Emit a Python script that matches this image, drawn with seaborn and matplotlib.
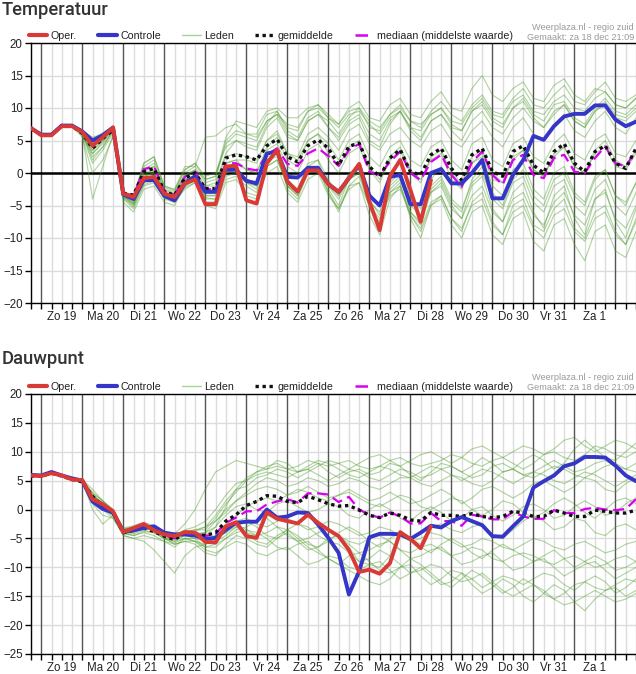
import numpy as np
import pandas as pd
import seaborn as sns
import matplotlib.pyplot as plt
from matplotlib.lines import Line2D

# 6-hourly steps, starting Za 18 dec 18:00 (hour -6 relative to Zo 19 00:00)
hours = np.arange(-6, 349, 6)
day_labels = ["Zo 19", "Ma 20", "Di 21", "Wo 22", "Do 23", "Vr 24", "Za 25",
              "Zo 26", "Ma 27", "Di 28", "Wo 29", "Do 30", "Vr 31", "Za 1"]

# ---------------- Temperatuur ----------------
temp_oper = [6.9, 5.8, 5.8, 7.2, 7.2, 6.3, 4.2, 5.5, 7.0, -3.2,
             -3.7, -0.8, -0.6, -3.2, -3.7, -1.6, -1.0, -4.8, -4.8, 1.0,
             1.1, -4.2, -4.7, 1.5, 3.5, -1.3, -2.9, 0.4, 0.4, -1.7,
             -2.9, -0.8, 1.4, -4.4, -8.8, -0.5, 2.0, -2.6, -7.5, -1.1]
temp_ctrl = [6.9, 5.9, 5.9, 7.3, 7.3, 6.4, 5.0, 5.8, 7.0, -3.3,
             -4.0, -1.1, -1.1, -3.5, -4.2, -1.6, -0.5, -2.9, -2.9, 0.5,
             0.5, -1.2, -1.6, 3.0, 3.3, -0.6, -0.7, 0.8, 0.8, -1.7,
             -2.9, -0.8, 1.2, -3.5, -5.0, -0.6, -0.3, -4.8, -4.8, 0.0,
             0.6, -1.6, -1.6, 0.0, 2.0, -3.9, -3.9, -0.3, 2.0, 5.7,
             5.1, 7.2, 8.7, 9.1, 9.1, 10.4, 10.4, 8.2, 7.2, 7.9]
temp_mean = [6.8, 5.9, 5.9, 7.3, 7.2, 6.1, 3.8, 5.3, 6.6, -3.1,
             -3.4, 0.2, 0.7, -2.9, -3.4, -0.8, 0.0, -2.4, -2.4, 2.3,
             2.8, 2.5, 2.0, 4.2, 5.2, 2.5, 1.7, 4.2, 5.1, 3.8,
             1.2, 4.1, 4.6, 1.0, -0.6, 2.3, 3.6, 0.2, -0.3, 2.8,
             3.8, 0.7, -1.1, 2.8, 3.8, 0.2, -0.5, 3.3, 4.2, 1.2,
             0.0, 3.3, 4.5, 1.5, 0.2, 3.3, 4.2, 1.5, 0.7, 3.8]
temp_median = [6.8, 5.9, 5.9, 7.3, 7.2, 6.2, 4.2, 5.4, 6.7, -3.1,
               -3.5, 0.6, 1.0, -2.8, -3.4, -0.6, 0.2, -2.5, -2.5, 1.5,
               1.5, 0.7, 0.4, 2.8, 3.8, 1.4, 1.1, 3.0, 3.8, 2.6,
               1.1, 3.5, 4.5, 0.2, -0.3, 1.7, 3.3, 0.0, -1.1, 1.7,
               2.8, -0.3, -2.1, 1.7, 3.3, -0.3, -1.8, 2.0, 2.8, -0.3,
               -0.8, 2.3, 2.8, 0.2, 0.0, 2.3, 4.1, 1.5, 1.0, 3.5]
temp_members = [
    [7.0, 6.0, 6.0, 7.4, 7.3, 6.0, 3.5, 5.0, 6.8, -3.5,
     -4.5, 0.5, 1.0, -3.0, -3.5, -0.5, 0.5, -2.0, -1.5, 3.0,
     5.0, 4.0, 3.5, 7.0, 8.5, 5.5, 5.0, 8.0, 9.0, 8.0,
     6.0, 8.5, 10.0, 7.0, 6.5, 9.0, 10.5, 8.0, 7.0, 9.5,
     11.0, 9.0, 8.0, 10.5, 12.0, 9.5, 9.0, 11.5, 13.0, 10.5,
     10.0, 12.0, 13.5, 11.0, 10.5, 12.5, 14.0, 11.5, 11.0, 12.0],
    [6.8, 5.8, 5.8, 7.2, 7.2, 6.5, 5.0, 6.0, 7.2, -3.0,
     -3.5, 1.5, 2.5, -2.0, -2.5, 1.0, 1.0, 5.5, 5.7, 7.0,
     7.5, 6.0, 6.0, 9.0, 9.5, 7.0, 6.5, 9.5, 10.5, 9.0,
     7.5, 10.0, 11.0, 8.5, 8.0, 10.5, 11.5, 9.0, 8.5, 11.0,
     12.5, 10.0, 9.5, 13.0, 15.0, 12.0, 11.0, 13.0, 14.0, 11.5,
     11.0, 13.5, 14.5, 12.0, 11.0, 13.0, 12.5, 10.5, 10.0, 11.5],
    [6.9, 5.9, 5.9, 7.3, 7.3, 6.2, 2.0, 4.0, 6.5, -3.8,
     -5.0, -1.0, -0.5, -3.5, -4.0, -1.5, -0.5, -3.0, -3.0, 1.5,
     2.0, 2.0, 1.5, 5.0, 6.5, 3.0, 2.5, 6.0, 7.0, 5.5,
     3.5, 6.5, 7.5, 4.5, 3.5, 6.0, 7.0, 5.0, 4.0, 6.5,
     7.5, 5.0, 4.0, 6.5, 8.0, 5.5, 4.0, 7.0, 8.5, 6.0,
     5.0, 7.5, 9.0, 6.5, 5.5, 8.0, 9.5, 7.0, 6.0, 8.5],
    [6.9, 5.9, 5.9, 7.3, 7.2, 6.0, -4.0, 1.0, 6.0, -4.0,
     -5.5, -2.0, -1.5, -4.0, -4.5, -2.5, -1.5, -4.5, -4.5, -1.0,
     -0.5, -2.0, -3.0, 1.0, 2.0, -2.0, -3.5, 0.0, 1.0, -2.0,
     -4.0, -1.0, 0.0, -4.5, -6.0, -2.5, -1.0, -5.0, -6.5, -3.0,
     -2.0, -5.5, -7.0, -3.5, -2.0, -6.0, -7.5, -4.0, -3.0, -6.5,
     -8.0, -4.5, -3.0, -6.5, -8.0, -4.0, -3.0, -7.0, -8.5, -5.0],
    [7.0, 6.0, 6.0, 7.3, 7.2, 6.3, 4.0, 5.5, 6.9, -3.2,
     -4.0, -0.5, 0.0, -3.2, -3.8, -1.0, -0.5, -3.5, -3.5, 0.0,
     1.0, -1.0, -2.0, 2.0, 3.0, -1.5, -2.5, 1.5, 2.0, -1.0,
     -3.5, 0.0, 1.0, -4.0, -6.5, -3.0, -2.0, -6.5, -9.0, -5.0,
     -4.0, -8.0, -10.0, -6.0, -5.0, -9.5, -11.0, -7.0, -6.0, -10.5,
     -12.0, -8.0, -7.0, -11.0, -13.5, -9.0, -8.0, -12.0, -13.0, -9.0],
    [6.9, 5.8, 5.8, 7.2, 7.3, 6.4, 4.8, 5.8, 7.0, -3.0,
     -3.8, -0.8, -0.5, -3.0, -3.6, -1.2, -0.8, -4.5, -4.5, 1.0,
     1.0, -3.5, -4.0, 1.5, 3.5, -1.0, -2.5, 0.5, 1.0, -1.5,
     -3.0, -0.5, 1.5, -4.0, -8.5, 0.0, 2.0, -4.0, -7.0, -1.0,
     1.0, -1.5, -2.0, 1.5, 3.0, -1.0, -1.5, 2.0, 3.5, 0.5,
     -0.5, 3.0, 4.0, 1.0, 0.0, 3.5, 5.0, 2.0, 1.0, 3.5],
    [7.0, 6.0, 6.1, 7.4, 7.4, 6.5, 5.5, 6.0, 7.2, -2.8,
     -3.5, 0.5, 1.5, -2.5, -3.0, 0.0, 1.0, -1.5, -1.0, 5.0,
     6.5, 6.0, 5.5, 8.0, 9.0, 7.5, 7.0, 9.5, 10.0, 8.5,
     7.0, 9.0, 9.5, 7.5, 6.0, 8.5, 9.5, 7.0, 5.5, 8.0,
     9.0, 6.5, 5.0, 8.0, 9.5, 7.0, 6.0, 8.5, 10.0, 8.0,
     7.0, 9.5, 10.5, 8.0, 7.0, 9.5, 11.0, 9.0, 8.5, 10.0],
    [6.8, 5.9, 5.9, 7.3, 7.2, 5.5, 0.0, 2.0, 5.5, -4.5,
     -6.0, -2.5, -2.0, -4.5, -5.0, -2.0, -1.0, -4.0, -4.0, 0.0,
     0.5, -1.5, -2.0, 2.5, 3.0, -2.0, -3.0, 1.0, 2.0, -2.5,
     -5.0, -1.0, 0.5, -5.5, -7.5, -2.0, -0.5, -6.0, -8.0, -3.0,
     -1.5, -5.0, -7.0, -2.0, -0.5, -5.5, -7.5, -3.0, -1.5, -6.0,
     -8.5, -3.5, -2.0, -7.0, -9.5, -4.0, -2.5, -7.5, -10.0, -5.5],
    [6.9, 5.9, 5.9, 7.3, 7.3, 6.0, 3.0, 4.5, 6.5, -3.3,
     -4.2, 0.0, 0.5, -2.8, -3.5, -0.5, 0.0, -2.0, -2.0, 2.5,
     3.0, 2.5, 2.0, 5.0, 6.0, 3.0, 2.0, 5.0, 6.0, 4.5,
     2.0, 5.0, 6.0, 2.5, 1.0, 4.0, 5.0, 2.0, 1.0, 4.0,
     5.0, 2.0, 0.5, 4.5, 5.5, 2.0, 1.0, 4.5, 5.5, 2.5,
     1.5, 4.5, 6.0, 3.0, 2.0, 5.0, 6.0, 3.0, 2.5, 5.0],
    [7.0, 6.0, 5.9, 7.2, 7.2, 5.8, 2.5, 4.0, 6.5, -3.5,
     -4.8, -1.5, -1.0, -3.8, -4.5, -2.0, -1.2, -3.8, -4.0, -0.5,
     0.0, -1.5, -2.5, 1.0, 2.0, -1.5, -3.0, 0.5, 1.0, -2.0,
     -3.5, -1.0, 0.0, -3.0, -5.0, -1.5, 0.0, -4.0, -5.5, -2.0,
     -0.5, -4.0, -5.5, -1.5, 0.0, -4.0, -5.5, -1.5, -0.5, -4.5,
     -6.0, -2.0, -1.0, -5.0, -6.5, -2.5, -1.0, -5.0, -6.5, -3.0],
    [6.9, 6.0, 6.0, 7.3, 7.4, 6.6, 5.2, 6.2, 7.1, -2.9,
     -3.6, 1.0, 2.0, -2.2, -2.8, 0.5, 1.5, -0.5, 0.0, 4.0,
     5.0, 4.5, 4.0, 7.5, 9.5, 6.5, 5.5, 8.5, 9.5, 7.0,
     5.5, 8.0, 9.0, 6.0, 5.0, 8.0, 9.5, 6.5, 5.0, 8.0,
     9.0, 7.0, 6.5, 9.5, 10.5, 8.0, 7.0, 10.0, 11.5, 9.0,
     8.0, 10.5, 11.0, 8.5, 7.5, 10.0, 11.5, 9.5, 9.0, 10.5],
    [6.9, 5.9, 5.9, 7.2, 7.2, 6.0, 3.5, 5.0, 6.8, -3.6,
     -4.6, -1.2, -0.8, -3.5, -4.2, -1.8, -1.0, -3.2, -3.2, 0.5,
     0.5, -1.0, -1.5, 2.0, 3.0, -2.5, -4.0, 0.0, 0.5, -3.0,
     -5.5, -2.0, -1.5, -6.5, -9.5, -4.0, -2.0, -6.0, -7.5, -2.5,
     -1.0, -4.5, -6.0, -1.0, 1.0, -3.0, -5.0, -1.0, 0.5, -3.5,
     -5.0, -1.0, 0.0, -3.5, -5.0, -1.0, 0.5, -3.5, -4.5, -1.5],
    [6.8, 5.8, 5.8, 7.2, 7.3, 6.2, 4.0, 5.5, 6.9, -3.4,
     -4.3, -0.2, 0.3, -3.0, -3.6, -1.0, -0.3, -2.8, -2.8, 1.0,
     1.5, 0.5, 0.0, 3.5, 4.5, 1.0, 0.0, 3.5, 4.5, 2.0,
     0.0, 3.0, 4.0, 0.5, -1.5, 2.0, 3.5, 0.0, -1.5, 2.5,
     3.5, 0.0, -1.5, 2.5, 3.5, 0.0, -1.5, 2.5, 3.5, 0.5,
     -0.5, 2.5, 4.0, 1.0, 0.0, 3.0, 4.0, 1.0, 0.5, 3.0],
    [7.0, 6.0, 6.0, 7.3, 7.3, 6.4, 4.5, 5.5, 7.0, -3.1,
     -3.9, 0.2, 1.0, -2.6, -3.2, -0.3, 0.5, -1.0, -0.5, 4.5,
     6.0, 5.5, 5.0, 8.0, 9.0, 6.0, 5.0, 8.0, 9.0, 7.0,
     5.0, 7.5, 8.5, 5.0, 4.0, 7.5, 9.5, 7.0, 6.5, 9.0,
     10.0, 8.0, 7.5, 10.0, 11.5, 9.0, 8.5, 11.0, 12.0, 9.5,
     9.0, 11.0, 12.0, 10.0, 9.5, 11.5, 12.5, 10.5, 10.0, 11.5],
    [6.9, 5.9, 5.9, 7.3, 7.2, 5.8, 1.5, 3.5, 6.2, -3.8,
     -5.2, -1.8, -1.2, -3.8, -4.4, -2.2, -1.5, -5.0, -5.5, -1.5,
     -1.0, -3.0, -3.5, 0.0, 1.0, -3.0, -4.5, -1.0, 0.0, -3.5,
     -5.5, -2.5, -1.5, -5.0, -7.0, -3.5, -2.5, -6.5, -8.5, -4.5,
     -3.5, -7.0, -8.5, -5.0, -4.0, -8.0, -9.5, -6.0, -5.0, -8.5,
     -10.0, -6.5, -5.5, -9.0, -10.5, -7.0, -6.0, -9.5, -11.0, -7.5],
    [6.9, 5.9, 5.9, 7.3, 7.3, 6.3, 4.2, 5.6, 7.0, -3.2,
     -4.0, -0.5, 0.0, -3.2, -3.8, -1.0, -0.5, -2.5, -2.5, 1.5,
     2.0, 0.5, 0.0, 4.0, 5.5, 2.0, 1.0, 5.0, 6.0, 3.0,
     1.0, 4.0, 5.0, 1.0, -1.0, 2.5, 4.0, 0.5, -1.0, 2.0,
     3.0, -1.0, -2.5, 1.5, 2.5, -2.0, -3.5, 0.5, 1.5, -2.5,
     -4.0, 0.0, 1.0, -3.0, -4.5, -0.5, 0.5, -3.5, -5.0, -1.5],
    [7.0, 6.0, 6.0, 7.4, 7.4, 6.2, 4.0, 5.4, 6.9, -3.0,
     -3.8, 1.5, 2.5, -2.0, -2.6, 0.5, 1.5, -1.0, -0.5, 5.5,
     8.0, 7.5, 7.0, 9.5, 10.0, 8.5, 8.5, 10.0, 10.5, 8.5,
     7.5, 9.5, 10.0, 8.0, 7.0, 9.0, 10.0, 8.0, 7.5, 9.0,
     10.0, 7.5, 6.5, 9.5, 11.0, 8.5, 7.5, 10.0, 11.0, 8.5,
     7.0, 9.0, 10.5, 8.0, 7.0, 9.5, 10.5, 8.5, 8.0, 9.5],
    [6.9, 5.9, 5.9, 7.2, 7.2, 6.0, 3.0, 4.8, 6.6, -3.6,
     -4.8, -1.0, -0.5, -3.6, -4.2, -1.5, -1.0, -3.5, -3.5, 0.0,
     0.5, -1.0, -2.0, 2.0, 2.5, -2.0, -3.5, 0.5, 1.0, -3.0,
     -6.0, -2.0, -0.5, -5.0, -8.0, -3.0, -1.5, -7.0, -10.0, -5.0,
     -3.5, -7.0, -9.0, -4.5, -3.0, -7.5, -9.5, -5.0, -4.0, -8.0,
     -9.0, -5.5, -4.0, -8.5, -10.0, -6.0, -5.0, -9.0, -11.0, -7.0],
]

# ---------------- Dauwpunt ----------------
dew_oper = [5.9, 5.8, 6.3, 5.9, 5.2, 5.1, 1.8, 0.9, -0.3, -3.9,
            -3.2, -2.5, -3.6, -4.3, -4.6, -3.9, -4.0, -5.6, -5.7, -2.9,
            -2.2, -4.6, -4.9, -0.5, -1.6, -2.0, -2.4, -0.9, -2.3, -3.5,
            -4.6, -7.0, -10.8, -10.4, -11.1, -9.3, -3.9, -5.1, -6.7, -2.9]
dew_ctrl = [6.0, 5.9, 6.5, 5.9, 5.4, 5.0, 1.4, 0.1, -0.5, -3.8,
            -3.6, -3.2, -2.9, -4.0, -4.3, -4.3, -4.5, -5.1, -4.9, -3.5,
            -2.3, -2.1, -2.1, 0.0, -1.4, -1.2, -0.5, -0.6, -2.6, -4.9,
            -7.5, -14.7, -10.7, -4.8, -4.2, -4.2, -4.3, -5.1, -4.0, -2.8,
            -3.1, -2.0, -1.3, -2.0, -2.7, -4.6, -4.7, -2.9, -1.2, 3.8,
            4.9, 5.9, 7.5, 8.0, 9.1, 9.1, 9.0, 7.6, 5.9, 4.9]
dew_mean = [5.8, 5.8, 6.3, 5.8, 5.2, 4.8, 2.3, 0.6, -0.6, -4.0,
            -3.6, -3.2, -3.8, -4.6, -5.2, -4.0, -4.2, -4.5, -4.0, -2.0,
            -0.9, 0.7, 1.4, 2.4, 2.3, 1.4, 1.2, 2.3, 1.7, 1.0,
            0.6, 0.7, -0.1, -1.0, -1.4, -0.6, -1.0, -1.8, -2.0, -0.5,
            -1.0, -1.0, -1.2, -0.7, -1.2, -1.4, -1.2, -0.3, -0.6, -1.2,
            -1.2, -0.1, -0.6, -1.2, -1.2, -0.1, -0.3, -0.6, -0.6, -0.1]
dew_median = [5.8, 5.8, 6.3, 5.8, 5.2, 4.9, 2.0, 0.7, -0.5, -3.9,
              -3.5, -3.0, -3.6, -4.5, -5.0, -4.0, -4.1, -4.6, -4.2, -2.3,
              -1.4, -0.3, -0.3, 0.9, 1.4, 1.8, 1.2, 2.8, 2.8, 2.6,
              1.3, 2.2, 0.0, -0.9, -1.4, -0.5, -1.2, -2.4, -2.4, -0.6,
              -2.0, -2.0, -2.8, -0.9, -1.2, -1.7, -1.7, -0.4, -1.2, -1.6,
              -1.6, -0.1, -0.6, -0.6, 0.1, 0.3, 0.0, -0.1, 0.1, 1.8]
dew_members = [
    [5.8, 5.8, 6.5, 5.9, 5.2, 5.0, 2.5, 1.0, -0.5, -3.5,
     -3.0, -2.5, -3.0, -4.0, -4.5, -4.0, -4.0, -4.5, -3.0, 0.5,
     3.5, 5.5, 6.5, 7.5, 8.0, 7.0, 7.5, 8.5, 8.0, 7.5,
     8.0, 8.5, 7.5, 7.0, 7.5, 8.5, 9.0, 8.0, 7.5, 8.0,
     8.5, 9.5, 9.0, 8.0, 7.5, 8.5, 9.0, 8.0, 7.0, 8.0,
     9.5, 10.0, 9.0, 8.5, 9.5, 11.0, 10.5, 9.5, 9.0, 10.0],
    [5.9, 5.9, 6.6, 6.0, 5.3, 5.1, 3.0, 1.5, 0.0, -3.2,
     -2.8, -2.2, -2.8, -3.8, -4.2, -2.5, 0.0, 3.5, 6.5, 7.5,
     8.5, 8.0, 7.5, 7.0, 8.5, 8.0, 6.5, 7.0, 8.0, 6.5,
     5.5, 6.5, 7.0, 6.0, 6.5, 8.0, 7.5, 6.0, 5.0, 6.5,
     8.0, 7.5, 6.5, 7.5, 9.0, 8.0, 6.5, 7.0, 8.5, 9.5,
     8.5, 7.0, 8.0, 10.5, 12.0, 10.5, 9.0, 8.5, 10.0, 11.5],
    [5.9, 5.8, 6.4, 5.8, 5.1, 4.9, 1.5, 0.0, -1.0, -4.2,
     -3.8, -3.0, -3.5, -4.8, -5.2, -4.5, -4.2, -4.0, -2.0, 0.0,
     1.5, 2.5, 3.5, 4.0, 3.5, 2.5, 3.0, 4.0, 3.0, 2.0,
     2.5, 3.5, 2.5, 1.5, 2.0, 3.0, 2.0, 1.0, 1.5, 2.5,
     3.5, 2.5, 1.0, 2.0, 3.5, 4.0, 3.0, 2.0, 3.0, 4.5,
     5.0, 4.0, 3.0, 4.0, 5.5, 5.0, 3.5, 3.0, 4.5, 5.5],
    [5.8, 5.7, 6.3, 5.8, 5.2, 5.0, 2.0, 0.5, -1.0, -4.0,
     -4.5, -4.0, -4.5, -5.5, -6.5, -5.0, -5.5, -6.5, -6.0, -5.0,
     -4.0, -3.5, -4.0, -5.0, -6.5, -7.0, -6.0, -5.5, -7.0, -8.5,
     -9.5, -8.0, -7.5, -9.0, -10.5, -11.0, -10.0, -9.5, -11.5, -13.0,
     -12.0, -10.5, -11.0, -13.0, -14.5, -13.5, -12.0, -13.0, -15.0, -16.0,
     -14.5, -13.0, -14.0, -16.0, -17.5, -15.5, -14.0, -13.5, -15.0, -14.0],
    [5.9, 5.9, 6.5, 5.9, 5.3, 5.2, 3.5, 1.5, 0.0, -3.5,
     -3.5, -3.0, -3.8, -5.0, -6.0, -5.5, -5.5, -7.0, -7.5, -6.5,
     -5.5, -6.0, -7.5, -8.0, -7.0, -6.5, -8.0, -9.5, -9.0, -8.0,
     -8.5, -10.0, -10.5, -9.5, -9.0, -10.5, -12.0, -11.0, -10.0, -11.5,
     -13.0, -12.5, -11.0, -12.0, -13.5, -12.5, -11.5, -12.0, -13.0, -12.0,
     -11.0, -11.5, -13.0, -14.0, -12.5, -11.5, -12.5, -14.5, -13.5, -12.0],
    [5.9, 5.8, 6.4, 5.9, 5.2, 5.1, 1.8, 0.8, -0.5, -3.8,
     -3.3, -2.6, -3.5, -4.3, -4.6, -4.0, -4.0, -5.5, -5.5, -3.0,
     -2.5, -4.0, -4.5, -1.0, -1.5, -2.0, -2.5, -1.0, -2.0, -3.5,
     -4.5, -6.5, -9.0, -9.5, -10.0, -8.0, -4.0, -5.0, -6.0, -3.0,
     -2.5, -3.5, -4.0, -3.0, -2.5, -4.5, -5.0, -3.5, -2.0, -1.0,
     -2.0, -3.5, -3.0, -1.5, -2.0, -4.0, -4.5, -3.0, -2.5, -3.5],
    [5.8, 5.8, 6.5, 5.9, 5.3, 5.0, 2.2, 1.2, -0.2, -3.3,
     -3.0, -2.4, -3.2, -4.0, -4.5, -3.5, -3.0, -2.0, 0.0, 2.5,
     4.5, 5.0, 6.0, 6.5, 6.0, 5.5, 6.5, 7.0, 6.0, 5.0,
     6.0, 7.0, 6.5, 5.5, 5.0, 6.0, 7.0, 6.5, 5.5, 6.0,
     7.0, 7.5, 6.5, 5.5, 6.0, 7.5, 8.0, 7.0, 6.0, 6.5,
     7.5, 8.5, 7.5, 6.5, 7.0, 8.0, 8.5, 7.5, 7.0, 8.0],
    [5.9, 5.9, 6.5, 5.9, 5.2, 5.0, 0.0, -2.5, -1.0, -4.5,
     -5.0, -4.5, -5.0, -5.5, -6.0, -5.5, -6.0, -7.5, -8.0, -6.0,
     -4.5, -5.0, -6.0, -6.5, -5.0, -4.0, -5.5, -7.0, -6.5, -5.0,
     -4.5, -6.0, -7.5, -7.0, -6.0, -5.5, -7.0, -8.5, -8.0, -7.0,
     -6.5, -8.0, -9.5, -9.0, -8.0, -7.5, -9.0, -10.5, -10.0, -9.0,
     -8.5, -10.0, -11.5, -10.5, -9.5, -9.0, -10.5, -12.0, -11.0, -10.0],
    [5.8, 5.8, 6.4, 5.8, 5.2, 5.0, 2.0, 0.5, -0.8, -4.0,
     -4.0, -3.2, -3.6, -4.5, -5.0, -4.2, -4.2, -4.0, -3.0, -1.0,
     0.5, 1.0, 0.0, -0.5, 1.0, 1.5, 0.5, -0.5, 0.0, 1.0,
     0.5, -1.0, -1.5, 0.0, 1.0, 0.0, -1.5, -2.0, -0.5, 0.5,
     -0.5, -2.0, -1.5, 0.0, 0.5, -1.0, -2.0, -1.0, 0.5, 1.0,
     0.0, -1.5, -1.0, 0.5, 1.5, 0.5, -1.0, -0.5, 1.0, 2.0],
    [5.9, 5.8, 6.5, 5.9, 5.2, 5.0, 1.5, 0.0, -1.5, -4.5,
     -5.0, -5.5, -7.0, -9.0, -11.0, -8.0, -6.5, -6.0, -5.5, -4.5,
     -3.0, -2.0, -3.0, -4.5, -5.0, -3.5, -2.5, -3.0, -4.5, -5.5,
     -4.0, -3.0, -4.0, -5.5, -6.5, -5.0, -4.0, -5.0, -6.5, -7.5,
     -6.0, -5.0, -6.0, -7.5, -8.5, -7.0, -6.0, -7.0, -8.0, -9.0,
     -8.0, -7.0, -8.5, -10.0, -9.0, -8.0, -9.0, -10.5, -10.0, -9.0],
    [5.9, 5.9, 6.6, 6.0, 5.3, 5.0, 2.8, 1.5, -0.3, -3.5,
     -3.2, -2.8, -3.3, -4.2, -4.6, -4.0, -3.5, -3.0, -1.0, 1.5,
     3.5, 4.0, 5.5, 6.0, 7.0, 6.5, 5.5, 6.5, 7.5, 8.5,
     8.0, 7.0, 8.0, 9.0, 9.5, 8.5, 7.5, 8.5, 9.5, 10.0,
     9.0, 8.0, 9.0, 10.5, 11.0, 10.0, 9.0, 10.0, 11.0, 10.5,
     9.5, 10.5, 12.0, 12.5, 11.0, 10.0, 11.0, 12.0, 11.5, 10.5],
    [5.8, 5.7, 6.3, 5.7, 5.1, 4.9, 1.0, -1.0, -1.5, -4.2,
     -4.5, -3.8, -4.0, -5.0, -5.5, -4.5, -5.0, -5.5, -5.0, -4.0,
     -3.0, -4.0, -5.5, -6.0, -4.5, -3.5, -4.5, -6.0, -6.5, -5.5,
     -6.0, -7.5, -9.0, -8.5, -7.0, -8.0, -9.5, -11.0, -10.5, -9.5,
     -10.0, -11.5, -12.5, -12.0, -11.0, -12.5, -14.0, -15.0, -14.0, -13.0,
     -14.0, -15.5, -16.5, -16.0, -15.0, -14.0, -15.0, -16.0, -15.5, -14.5],
    [5.9, 5.8, 6.4, 5.9, 5.2, 5.0, 2.3, 0.8, -0.5, -3.8,
     -3.5, -3.0, -3.4, -4.4, -4.8, -4.3, -4.5, -5.0, -4.5, -3.0,
     -2.0, -1.5, -2.5, -3.0, -2.0, -1.5, -2.5, -3.5, -3.0, -2.0,
     -2.5, -3.5, -4.5, -4.0, -3.0, -3.5, -4.5, -5.5, -5.0, -4.0,
     -4.5, -5.5, -6.5, -6.0, -5.0, -5.5, -6.5, -7.0, -6.0, -5.0,
     -5.5, -6.5, -7.0, -6.0, -5.5, -6.5, -7.5, -7.0, -6.0, -5.5],
    [5.8, 5.8, 6.5, 5.9, 5.3, 5.1, 2.5, 1.0, -0.4, -3.6,
     -3.2, -2.6, -3.2, -4.2, -4.6, -3.8, -3.5, -3.5, -1.5, 1.0,
     3.0, 5.0, 6.5, 7.0, 7.5, 7.0, 6.5, 7.5, 8.5, 8.0,
     7.0, 6.0, 5.5, 6.5, 7.5, 7.0, 6.0, 5.5, 6.5, 7.5,
     7.0, 6.0, 5.0, 6.0, 7.0, 6.5, 5.5, 4.5, 5.5, 6.5,
     6.0, 5.0, 4.5, 5.5, 6.5, 6.0, 5.0, 4.0, 5.0, 6.0],
    [5.9, 5.9, 6.5, 5.9, 5.2, 5.0, 2.6, 1.0, -0.6, -3.9,
     -3.6, -3.0, -3.5, -4.6, -5.0, -4.4, -4.5, -5.5, -4.5, -2.5,
     -1.0, 0.5, 1.5, 2.0, 1.5, 2.5, 3.5, 3.0, 2.0, 1.5,
     2.5, 3.0, 2.0, 1.0, 0.5, 1.5, 2.5, 2.0, 0.5, 0.0,
     1.0, 2.0, 1.5, 0.0, -1.0, 0.0, 1.5, 1.0, -0.5, -1.5,
     -0.5, 1.0, 2.0, 1.0, -0.5, -1.5, 0.0, 1.5, 2.0, 1.0],
    [5.8, 5.8, 6.4, 5.8, 5.1, 5.0, 1.5, 0.2, -1.0, -4.0,
     -3.8, -3.2, -3.6, -4.8, -5.5, -5.0, -5.5, -6.0, -5.0, -4.0,
     -2.5, -3.5, -4.5, -4.0, -3.0, -3.5, -5.0, -6.5, -7.5, -8.5,
     -9.5, -10.5, -11.5, -12.5, -13.0, -12.0, -10.0, -8.5, -9.5, -11.0,
     -12.5, -13.5, -12.0, -10.5, -11.5, -13.0, -14.5, -13.5, -12.0, -13.0,
     -14.5, -15.5, -14.5, -13.0, -12.5, -13.5, -14.0, -13.0, -12.0, -12.5],
    [5.9, 5.9, 6.5, 5.9, 5.3, 5.0, 2.3, 1.2, -0.3, -3.4,
     -3.1, -2.5, -3.0, -4.0, -4.4, -3.7, -3.8, -3.0, -2.0, -0.5,
     1.5, 3.0, 4.5, 5.5, 5.0, 4.0, 4.5, 5.5, 5.0, 4.0,
     4.5, 5.5, 5.0, 4.0, 3.5, 4.5, 5.5, 5.5, 4.5, 4.0,
     5.0, 6.0, 5.5, 4.5, 4.0, 5.0, 6.5, 7.0, 6.0, 5.5,
     6.5, 7.5, 7.0, 6.0, 5.5, 6.5, 7.5, 8.0, 7.0, 6.5],
    [5.8, 5.8, 6.4, 5.8, 5.2, 5.0, 2.0, 0.5, -0.8, -4.2,
     -4.2, -3.6, -4.0, -5.0, -5.8, -5.0, -5.0, -6.5, -6.5, -5.0,
     -3.5, -3.0, -2.0, -1.5, -3.0, -4.5, -5.5, -5.0, -4.0, -3.5,
     -4.5, -5.5, -6.0, -5.0, -4.5, -5.5, -7.0, -7.5, -6.5, -6.0,
     -7.0, -8.0, -7.5, -6.5, -7.0, -8.5, -9.0, -8.0, -7.5, -8.0,
     -9.0, -9.5, -8.5, -8.0, -9.0, -10.0, -9.5, -8.5, -8.0, -9.0],
]

RED = "#d93a36"
BLUE = "#3535c8"
GREEN = "#4a9a26"
MAGENTA = "#d800f0"

sns.set_theme(style="white")
plt.rcParams["font.family"] = ["Liberation Sans", "DejaVu Sans"]


def members_frame(members):
    rows = []
    for m, vals in enumerate(members):
        for h, v in zip(hours, vals):
            rows.append({"hour": h, "value": v, "member": m})
    return pd.DataFrame(rows)


def tick_label(h):
    k = (h - 12) // 24
    if h % 24 == 12 and 0 <= k < len(day_labels):
        return day_labels[k]
    return ""


def draw_panel(ax, members, oper, ctrl, mean, median, ymin, zero_line):
    # grid: light every 6 h, dark at midnight
    for h in hours:
        if h % 24 == 0:
            ax.axvline(h, color="#555555", lw=1, zorder=1)
        else:
            ax.axvline(h, color="#dcdcdc", lw=1, zorder=0)
    for y in range(ymin, 21, 5):
        ax.axhline(y, color="#dcdcdc", lw=1, zorder=0)
    if zero_line:
        ax.axhline(0, color="black", lw=1.8, zorder=2)

    sns.lineplot(data=members_frame(members), x="hour", y="value", units="member",
                 estimator=None, color=GREEN, alpha=0.42, lw=0.85, ax=ax,
                 legend=False, zorder=3)
    sns.lineplot(x=hours, y=median, color=MAGENTA, lw=1.6, ax=ax, zorder=4,
                 linestyle=(0, (5, 2.5)))
    sns.lineplot(x=hours, y=mean, color="#111111", lw=2.4, ax=ax, zorder=5,
                 linestyle=(0, (1, 1.1)))
    sns.lineplot(x=hours, y=ctrl, color=BLUE, lw=2.8, ax=ax, zorder=6)
    sns.lineplot(x=hours[:len(oper)], y=oper, color=RED, lw=2.8, ax=ax, zorder=7)

    ax.set_xlim(-6, 348)
    ax.set_ylim(ymin, 20)
    ax.set_xticks(hours)
    ax.set_xticklabels([tick_label(h) for h in hours])
    ax.set_yticks(range(ymin, 21, 5))
    ax.tick_params(axis="both", which="major", length=4, width=1, color="black",
                   labelsize=8.3, labelcolor="#222222", pad=2, bottom=True, left=True)
    ax.set_xlabel("")
    ax.set_ylabel("")
    for side in ["left", "top", "bottom"]:
        ax.spines[side].set_color("black")
        ax.spines[side].set_linewidth(1)
    ax.spines["right"].set_visible(False)

    handles = [
        Line2D([], [], color=RED, lw=3),
        Line2D([], [], color=BLUE, lw=3),
        Line2D([], [], color="#a6d694", lw=1),
        Line2D([], [], color="#111111", lw=2.4, linestyle=(0, (1, 1.1))),
        Line2D([], [], color=MAGENTA, lw=1.8, linestyle=(0, (5, 2.5))),
    ]
    labels = ["Oper.", "Controle", "Leden", "gemiddelde", "mediaan (middelste waarde)"]
    ax.legend(handles, labels, ncol=5, loc="center left",
              bbox_to_anchor=(-0.004, 1 + 7 / 260), frameon=False, fontsize=7.7,
              handlelength=1.75, handletextpad=0.3, columnspacing=2.0,
              borderpad=0, borderaxespad=0, labelcolor="#222222")


fig = plt.figure(figsize=(6.36, 6.74), dpi=100)
ax1 = fig.add_axes([31 / 636, 1 - 303 / 674, 605 / 636, 260 / 674])
ax2 = fig.add_axes([31 / 636, 1 - 654 / 674, 605 / 636, 260 / 674])

draw_panel(ax1, temp_members, temp_oper, temp_ctrl, temp_mean, temp_median, -20, True)
draw_panel(ax2, dew_members, dew_oper, dew_ctrl, dew_mean, dew_median, -25, False)

for title, ytop in [("Temperatuur", 10), ("Dauwpunt", 359)]:
    fig.text(2 / 636, 1 - ytop / 674, title, fontsize=13.2, family=["Roboto", "DejaVu Sans"],
             weight="medium", color="#333333", ha="left", va="center")
for y1, y2 in [(27, 37), (377, 387)]:
    fig.text(634 / 636, 1 - y1 / 674, "Weerplaza.nl - regio zuid", fontsize=6.6,
             color="#9a9a9a", ha="right", va="center")
    fig.text(634 / 636, 1 - y2 / 674, "Gemaakt: za 18 dec 21:09", fontsize=6.6,
             color="#9a9a9a", ha="right", va="center")

plt.savefig("out.png", dpi=100)
